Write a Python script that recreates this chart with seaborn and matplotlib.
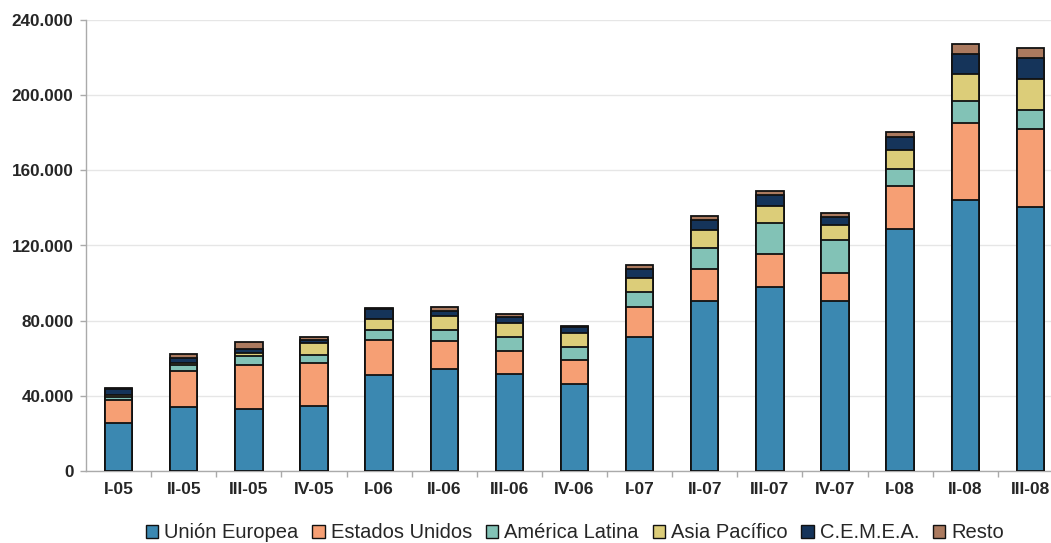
import numpy as np
import pandas as pd
import matplotlib
matplotlib.use("Agg")
import matplotlib.pyplot as plt
import seaborn as sns
from matplotlib.patches import Patch
from matplotlib.ticker import FuncFormatter, FixedLocator

periods = ["I-05", "II-05", "III-05", "IV-05", "I-06", "II-06", "III-06", "IV-06",
           "I-07", "II-07", "III-07", "IV-07", "I-08", "II-08", "III-08"]
series_names = ["Unión Europea", "Estados Unidos", "América Latina", "Asia Pacífico", "C.E.M.E.A.", "Resto"]

union_europea = [25.7, 33.9, 33.2, 34.6, 51.1, 54.5, 51.8, 46.5, 71.3, 90.5, 97.9, 90.5, 128.6, 144.2, 140.3]
estados_unidos = [11.9, 19.1, 23.2, 22.7, 18.8, 14.9, 12.1, 12.7, 16.0, 16.8, 17.6, 14.7, 22.9, 40.8, 41.5]
america_latina = [1.8, 3.4, 4.6, 4.6, 5.1, 5.8, 7.3, 6.6, 8.0, 11.4, 16.7, 17.6, 9.4, 12.1, 10.5]
asia_pacifico = [0.8, 1.1, 2.0, 6.1, 6.0, 7.3, 7.4, 7.5, 7.3, 9.4, 8.7, 8.0, 10.1, 14.0, 16.2]
cemea = [3.4, 2.5, 2.1, 1.7, 5.4, 2.8, 3.2, 3.2, 4.7, 5.5, 5.8, 4.6, 6.7, 10.8, 11.3]
resto = [0.4, 2.1, 3.6, 1.5, 0.3, 2.2, 1.6, 0.8, 2.2, 1.9, 2.1, 2.1, 2.7, 5.3, 5.5]

colors = ["#3B88B1", "#F69F74", "#82C2B6", "#DCCD79", "#15345A", "#AB7A5F"]

yticks = [0, 40000, 80000, 120000, 160000, 200000, 240000]

series = [union_europea, estados_unidos, america_latina, asia_pacifico, cemea, resto]
df = pd.DataFrame({n: np.array(v) * 1000 for n, v in zip(series_names, series)})
df["period"] = periods
cum = df[series_names].cumsum(axis=1)

sns.set_theme(style="white")
plt.rcParams["font.family"] = ["Liberation Sans", "DejaVu Sans"]

fig = plt.figure(figsize=(10.51, 5.43), dpi=100)
ax = fig.add_axes([86 / 1051, 72 / 543, (1063 - 86) / 1051, 451 / 543])

for name, col in reversed(list(zip(series_names, colors))):
    sns.barplot(x=df["period"], y=cum[name], order=periods, color=col, width=0.42,
                edgecolor="#111111", linewidth=1.3, saturation=1, ax=ax, zorder=3)

ax.set_ylim(0, 240000)
ax.set_xlim(-0.5, 14.5)
ax.set_yticks(yticks)
ax.yaxis.set_major_formatter(FuncFormatter(lambda v, p: f"{int(v):,}".replace(",", ".")))
ax.grid(axis="y", color="#E6E6E6", linewidth=1, zorder=0)
ax.set_axisbelow(True)
ax.set_xlabel("")
ax.set_ylabel("")

for s in ["top", "right"]:
    ax.spines[s].set_visible(False)
for s in ["left", "bottom"]:
    ax.spines[s].set_color("#AAAAAA")
    ax.spines[s].set_linewidth(1)

ax.tick_params(axis="y", which="major", length=4, color="#AAAAAA", width=1, direction="out",
               labelsize=12.3, pad=5, left=True)
ax.tick_params(axis="x", which="major", length=0, labelsize=12.5, pad=8)
ax.xaxis.set_minor_locator(FixedLocator(np.arange(0.5, 14.5, 1.0)))
ax.tick_params(axis="x", which="minor", length=4, color="#AAAAAA", width=1, direction="out", bottom=True)
for lab in ax.get_xticklabels() + ax.get_yticklabels():
    lab.set_fontweight("bold")

handles = [Patch(facecolor=c, edgecolor="#111111", linewidth=1.0, label=n) for n, c in zip(series_names, colors)]
fig.legend(handles=handles, loc="center", bbox_to_anchor=(575 / 1051, 1 - 533 / 543), ncol=6,
           frameon=False, fontsize=14.5, handlelength=0.6, handleheight=0.6,
           handletextpad=0.3, columnspacing=0.7)

fig.savefig("out.png", dpi=100)
